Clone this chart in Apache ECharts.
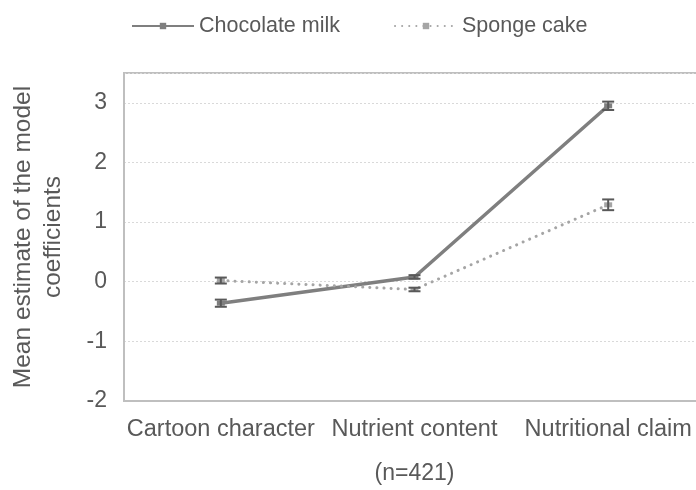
<!DOCTYPE html>
<html>
<head>
<meta charset="utf-8">
<script src="https://cdn.jsdelivr.net/npm/echarts@6/dist/echarts.min.js"></script>
<style>
  html, body { margin: 0; padding: 0; background: #fff; }
  #chart { width: 696px; height: 490px; }
</style>
</head>
<body>
<div id="chart"></div>
<script>
// Attribute categories shown on the x axis
const categories = ['Cartoon character', 'Nutrient content', 'Nutritional claim'];

// Mean model coefficients per product
const chocolateMilk = [-0.36, 0.08, 2.95];
const spongeCake = [0.02, -0.13, 1.29];

// Half-widths of the error bars
const chocolateMilkErr = [0.06, 0.03, 0.07];
const spongeCakeErr = [0.05, 0.03, 0.09];

const yTicks = { min: -2, max: 3.5, interval: 1 };

const FONT = 'Liberation Sans';
const TEXT = '#595959';

function errorSeries(name, values, errs) {
  return {
    type: 'custom',
    name: name,
    z: 5,
    silent: true,
    data: values.map((v, i) => [i, v - errs[i], v + errs[i]]),
    renderItem: function (params, api) {
      const lo = api.coord([api.value(0), api.value(1)]);
      const hi = api.coord([api.value(0), api.value(2)]);
      const half = 6;
      const style = { stroke: '#595959', lineWidth: 2 };
      return {
        type: 'group',
        children: [
          { type: 'line', shape: { x1: lo[0], y1: lo[1], x2: hi[0], y2: hi[1] }, style: style },
          { type: 'line', shape: { x1: lo[0] - half, y1: lo[1], x2: lo[0] + half, y2: lo[1] }, style: style },
          { type: 'line', shape: { x1: hi[0] - half, y1: hi[1], x2: hi[0] + half, y2: hi[1] }, style: style }
        ]
      };
    }
  };
}

const chart = echarts.init(document.getElementById('chart'));
chart.setOption({
  animation: false,
  textStyle: { fontFamily: FONT },
  legend: {
    top: 10,
    left: 126,
    itemWidth: 62,
    itemHeight: 8,
    itemGap: 54,
    textStyle: { fontFamily: FONT, fontSize: 21.5, color: TEXT },
    data: ['Chocolate milk', 'Sponge cake']
  },
  grid: {
    left: 124,
    right: -9,
    top: 73,
    bottom: 89,
    show: true,
    borderColor: '#bfbfbf',
    borderWidth: 2,
    containLabel: false,
    outerBoundsMode: 'none'
  },
  xAxis: {
    type: 'category',
    data: categories,
    boundaryGap: true,
    name: '(n=421)',
    nameLocation: 'middle',
    nameGap: 61,
    nameTextStyle: { fontFamily: FONT, fontSize: 23, color: TEXT },
    axisLine: { show: true, onZero: false, lineStyle: { color: '#bfbfbf', width: 2 } },
    axisTick: { show: false },
    axisLabel: { fontFamily: FONT, fontSize: 23.5, color: TEXT, margin: 17, interval: 0, hideOverlap: false },
    splitLine: { show: false }
  },
  yAxis: {
    type: 'value',
    min: yTicks.min,
    max: yTicks.max,
    interval: yTicks.interval,
    name: 'Mean estimate of the model\ncoefficients',
    nameLocation: 'middle',
    nameGap: 56,
    nameRotate: 90,
    nameTextStyle: { fontFamily: FONT, fontSize: 24.5, color: TEXT, lineHeight: 30 },
    axisLine: { show: true, lineStyle: { color: '#bfbfbf', width: 2 } },
    axisTick: { show: false },
    axisLabel: { fontFamily: FONT, fontSize: 23, color: TEXT, margin: 17, showMaxLabel: false },
    splitLine: { show: true, lineStyle: { color: '#d9d9d9', type: [2, 2], width: 1 } }
  },
  series: [
    {
      name: 'Chocolate milk',
      type: 'line',
      data: chocolateMilk,
      symbol: 'rect',
      symbolSize: [8, 5],
      itemStyle: { color: '#7f7f7f' },
      lineStyle: { color: '#7f7f7f', width: 3.5 },
      z: 3
    },
    {
      name: 'Sponge cake',
      type: 'line',
      data: spongeCake,
      symbol: 'rect',
      symbolSize: [8, 5],
      itemStyle: { color: '#a5a5a5' },
      lineStyle: { color: '#a5a5a5', width: 3, type: [0.1, 7], cap: 'round' },
      z: 4
    },
    errorSeries('Chocolate milk', chocolateMilk, chocolateMilkErr),
    errorSeries('Sponge cake', spongeCake, spongeCakeErr)
  ]
});
</script>
</body>
</html>
